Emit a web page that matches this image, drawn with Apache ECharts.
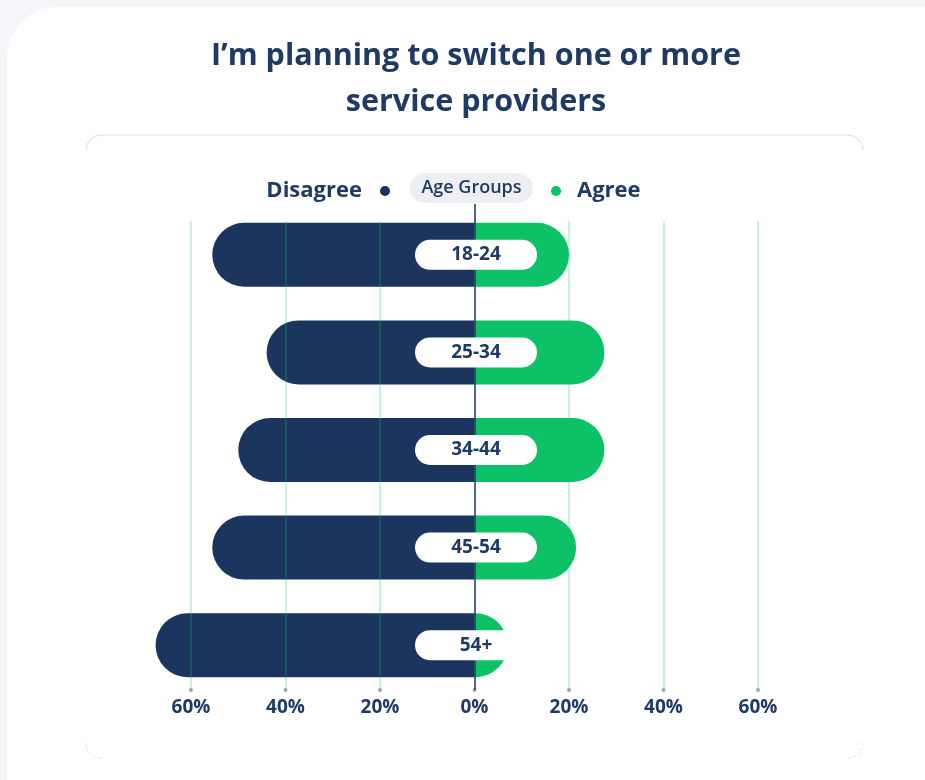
<!DOCTYPE html>
<html>
<head>
<meta charset="utf-8">
<script src="https://cdn.jsdelivr.net/npm/echarts@6/dist/echarts.min.js"></script>
<style>
html,body{margin:0;padding:0;background:#f5f6f9;}
#chart{width:925px;height:780px;}
</style>
</head>
<body>
<div id="chart"></div>
<script>
const categories = ['18-24', '25-34', '34-44', '45-54', '54+'];
const disagree = [55.5, 44, 50, 55.5, 67.5];
const agree = [20, 27.5, 27.5, 21.5, 7];
const gridTicks = [-60, -40, -20, 0, 20, 40, 60];

const NAVY = '#1b355f';
const TEXT = '#1f3a63';
const GREEN = '#0dc266';
const FONT = 'Open Sans';

const chart = echarts.init(document.getElementById('chart'), null, {renderer: 'canvas'});

const lineData = gridTicks.map(function (g) {
  const isZero = g === 0;
  return [
    {coord: [g, 0], lineStyle: {color: isZero ? NAVY : 'rgba(12,194,100,0.3)', width: 1.5, type: 'solid'}},
    {coord: [g, isZero ? 100 : 96.5]}
  ];
});

const option = {
  backgroundColor: '#f5f6f9',
  animation: false,
  textStyle: {fontFamily: FONT},
  title: {
    text: 'I’m planning to switch one or more\nservice providers',
    left: 471,
    textAlign: 'center',
    top: 28,
    textStyle: {fontFamily: FONT, fontSize: 30.5, fontWeight: 700, color: TEXT, lineHeight: 46}
  },
  legend: [
    {
      data: ['Disagree'], right: 530, top: 175, align: 'right', icon: 'circle',
      itemWidth: 10, itemHeight: 10, selectedMode: false,
      textStyle: {fontFamily: FONT, fontSize: 22, fontWeight: 700, color: TEXT, padding: [0, 13, 0, 0]}
    },
    {
      data: ['Agree'], left: 546, top: 175, align: 'left', icon: 'circle',
      itemWidth: 10, itemHeight: 10, selectedMode: false,
      textStyle: {fontFamily: FONT, fontSize: 22, fontWeight: 700, color: TEXT, padding: [0, 0, 0, 11]}
    }
  ],
  graphic: [
    {type: 'rect', z: -10, silent: true, shape: {x: 7, y: 7, width: 970, height: 820, r: 50}, style: {fill: '#ffffff'}},
    {type: 'line', z: -9, silent: true, shape: {x1: 101, y1: 135, x2: 848, y2: 135}, style: {stroke: '#dcdcdc', lineWidth: 1}},
    {type: 'arc', z: -9, silent: true, shape: {cx: 101, cy: 150, r: 15, startAngle: Math.PI, endAngle: Math.PI * 1.5}, style: {stroke: '#dcdcdc', fill: null, lineWidth: 1}},
    {type: 'arc', z: -9, silent: true, shape: {cx: 848, cy: 150, r: 15, startAngle: Math.PI * 1.5, endAngle: Math.PI * 2}, style: {stroke: '#dcdcdc', fill: null, lineWidth: 1}},
    {type: 'arc', z: -9, silent: true, shape: {cx: 101, cy: 743, r: 15, startAngle: Math.PI * 0.5, endAngle: Math.PI}, style: {stroke: '#e2e2e2', fill: null, lineWidth: 1, lineDash: [3, 2]}},
    {type: 'arc', z: -9, silent: true, shape: {cx: 848, cy: 743, r: 15, startAngle: 0, endAngle: Math.PI * 0.5}, style: {stroke: '#e2e2e2', fill: null, lineWidth: 1, lineDash: [3, 2]}},
    {type: 'rect', z: 10, silent: true, shape: {x: 410, y: 173, width: 123, height: 30, r: 15}, style: {fill: '#eeeff2'}},
    {type: 'text', z: 11, silent: true, x: 471.5, y: 188, style: {text: 'Age Groups', fill: TEXT, font: '600 18px "' + FONT + '"', align: 'center', verticalAlign: 'middle'}}
  ],
  grid: [
    {left: 96.5, right: 72.5, top: 206, bottom: 86},
    {left: 96.5, right: 72.5, top: 204, bottom: 90}
  ],
  xAxis: [
    {
      type: 'value', gridIndex: 0, min: -80, max: 80, interval: 20,
      axisLine: {show: false}, axisTick: {show: false}, splitLine: {show: false},
      axisLabel: {
        margin: 4, fontFamily: FONT, fontSize: 19, fontWeight: 700, color: TEXT,
        formatter: function (v) { return Math.abs(v) > 60 ? '' : Math.abs(v) + '%'; }
      }
    },
    {type: 'value', gridIndex: 1, min: -80, max: 80, show: false}
  ],
  yAxis: [
    {type: 'category', gridIndex: 0, data: categories, inverse: true, show: false},
    {type: 'value', gridIndex: 1, min: 0, max: 100, show: false}
  ],
  series: [
    {
      name: 'Disagree', type: 'bar', stack: 'total', barWidth: 64,
      xAxisIndex: 0, yAxisIndex: 0,
      itemStyle: {color: NAVY, borderRadius: [32, 0, 0, 32]},
      data: disagree.map(function (v) { return -v; })
    },
    {
      name: 'Agree', type: 'bar', stack: 'total', barWidth: 64,
      xAxisIndex: 0, yAxisIndex: 0,
      itemStyle: {color: GREEN, borderRadius: [0, 32, 32, 0]},
      data: agree
    },
    {
      name: 'gridlines', type: 'scatter', xAxisIndex: 1, yAxisIndex: 1, z: 3,
      symbolSize: 4, itemStyle: {color: '#a3a7ad', opacity: 1}, silent: true,
      data: gridTicks.map(function (g) { return [g, 0]; }),
      markLine: {silent: true, symbol: 'none', label: {show: false}, z: 5, data: lineData}
    },
    {
      name: 'labels', type: 'scatter', xAxisIndex: 0, yAxisIndex: 0, z: 10,
      symbolSize: 2, itemStyle: {color: 'rgba(0,0,0,0)', opacity: 1}, silent: true,
      data: categories.map(function (c, i) { return [0, i]; }),
      label: {
        show: true, position: 'inside', offset: [1.5, 0], opacity: 1,
        formatter: function (p) { return categories[p.dataIndex]; },
        backgroundColor: '#ffffff', borderRadius: 15, width: 122, lineHeight: 30,
        align: 'center', verticalAlign: 'middle',
        fontFamily: FONT, fontSize: 19, fontWeight: 700, color: TEXT
      }
    }
  ]
};
chart.setOption(option);
</script>
</body>
</html>
